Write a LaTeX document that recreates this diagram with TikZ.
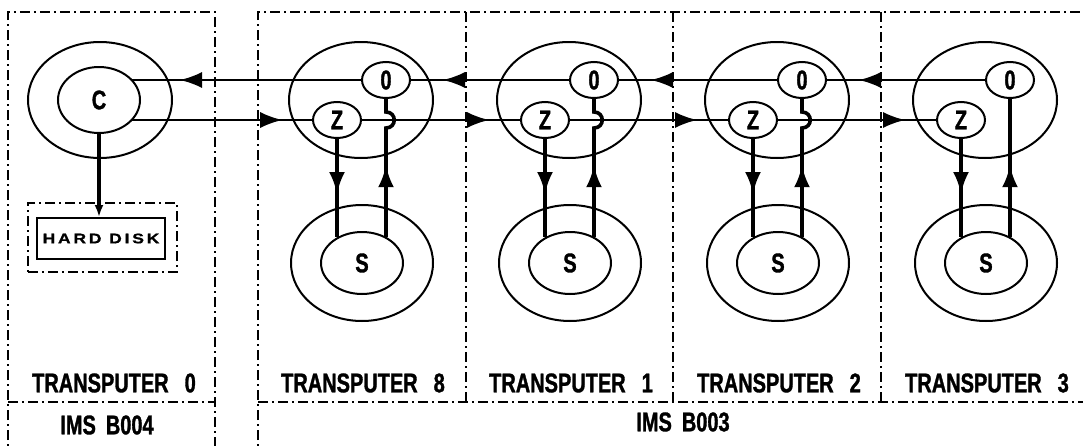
\documentclass[tikz,border=0pt]{standalone}
\usepackage{fontspec}
\usetikzlibrary{shapes.geometric,arrows.meta,decorations.markings,calc}
\newfontfamily\lblfont[FakeStretch=0.74,FakeBold=1.2]{Liberation Sans}
\newfontfamily\hdfont[FakeStretch=1.25,LetterSpace=20,FakeBold=1]{Liberation Sans}
\begin{document}
\begin{tikzpicture}[x=0.5pt,y=-0.5pt,
  boxline/.style={line width=1.2pt, dash pattern=on 5pt off 2pt on 1pt off 2pt},
  ell/.style={draw, ellipse, inner sep=0pt, line width=1pt},
  lbltext/.style={font=\lblfont\bfseries\fontsize{13.5}{13.5}\selectfont},
  ringbig/.style={ell, minimum width=72pt, minimum height=58pt},
  ringsmall/.style={ell, lbltext, minimum width=41pt, minimum height=33pt},
  sbig/.style={ell, minimum width=71pt, minimum height=58pt},
  ssmall/.style={ell, lbltext, minimum width=41pt, minimum height=31pt},
  portnode/.style={ell, lbltext, minimum width=24pt, minimum height=18pt},
  link/.style={line width=1pt},
  vlink/.style={line width=1.8pt},
  tipat/.style={postaction={decorate}, decoration={markings, mark=at position #1 with {\arrow{Latex[length=11pt,width=8pt]}}}},
  captiontext/.style={lbltext, inner sep=0pt}
]
\useasboundingbox (0,0) rectangle (1083,445);
\fill[white] (0,0) rectangle (1083,445);
\begin{scope}
\clip (0,0) rectangle (1083,445);
% frames
\draw[boxline] (8,460) -- (8,12) -- (215,12) -- (215,460);
\draw[boxline] (8,402) -- (215,402);
\draw[boxline] (258,460) -- (258,12) -- (1100,12);
\draw[boxline] (258,402) -- (1100,402);
\foreach \xd in {466,673,881} \draw[boxline] (\xd,12) -- (\xd,402);
\end{scope}

% controller
\node[ringbig] (Cout) at (100,100) {};
\node[ringsmall] (C) at (99,100) {C};
\node[draw, boxline, line width=1pt, minimum width=74.5pt, minimum height=34.5pt, inner sep=0pt] (HDbox) at (102.5,237.5) {};
\node[draw, line width=1pt, minimum width=64pt, minimum height=20.5pt, inner sep=0pt, font=\hdfont\bfseries\fontsize{7}{7}\selectfont] (HD) at (101,238.5) {HARD DISK};
\draw[vlink, -{Latex[length=6pt,width=4.5pt]}] (C.south) -- (C.south |- HD.north);

% transputer modules
\foreach \i/\mx/\num in {0/361/8, 1/569/1, 2/777/2, 3/985/3}{
  \node[ringbig] (T\i) at (\mx,100) {};
  \node[portnode] (O\i) at (\mx+25,80) {0};
  \node[portnode] (Z\i) at (\mx-24,120) {Z};
  \node[sbig] (SO\i) at (\mx+1,263) {};
  \node[ssmall] (S\i) at (\mx+1,263) {S};
  \node[captiontext] (L\i) at (\mx+2,383) {TRANSPUTER\hspace{8pt}\num};
  \draw[vlink, tipat=27.5pt] (Z\i.south) -- (Z\i.south |- S\i.134);
}
\foreach \i in {0,1,2}{
  \draw[vlink, tipat=36pt] (O\i.south |- S\i.46) -- ($(O\i.center)+(0,48)$)
     .. controls ($(O\i.center)+(11,48)$) and ($(O\i.center)+(11,32)$) .. ($(O\i.center)+(0,32)$) -- (O\i.south);
}
\draw[vlink, tipat=36pt] (O3.south |- S3.46) -- (O3.south);

% horizontal links
\draw[link, tipat=90.5pt] (O0.west) -- (O0.west -| C.32);
\draw[link, tipat=75pt] (Z0.west -| C.-32) -- (Z0.west);
\foreach \i/\j in {0/1,1/2,2/3}{
  \draw[link, tipat=63pt] (O\j.west) -- (O\i.east);
  \draw[link, tipat=63.5pt] (Z\i.east) -- (Z\j.west);
}

% captions
\node[captiontext] (Lroot) at (114,383) {TRANSPUTER\hspace{8pt}0};
\node[captiontext] (B4) at (107,425) {IMS\hspace{5pt}B004};
\node[captiontext] (B3) at (683,422) {IMS\hspace{5pt}B003};
\end{tikzpicture}
\end{document}
